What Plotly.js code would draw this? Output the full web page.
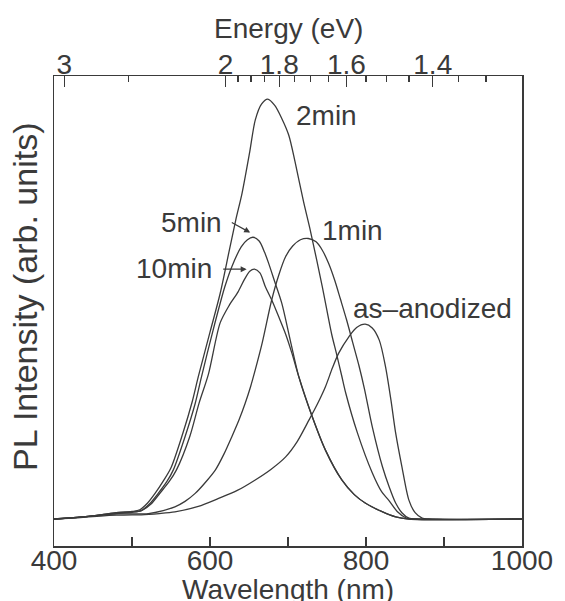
<!DOCTYPE html>
<html>
<head>
<meta charset="utf-8">
<script src="https://cdn.plot.ly/plotly-3.0.1.min.js"></script>
<style>html,body{margin:0;padding:0;background:#fff;}#chart{width:565px;height:601px;}</style>
</head>
<body>
<div id="chart"></div>
<script>
// ---- data ----
const wl_2min = [400,430,460,480,500,510,520,530,540,550,565,577,585,600,613,624,633,641,651,658,666,674,683,692,701,709,720,729,744,756,762,769,774,789,808,820,829,840,851,860,1000];
const pl_2min = [0,0.4,1.0,1.5,1.8,2.2,3.8,6.2,9.0,12.2,20.3,27.8,33.9,44.5,53.7,63.3,71.2,77.5,87.5,95.0,98.8,100,98.5,95.4,91.4,85.1,75.5,68.4,55.3,44.0,39.5,34.0,30.0,20.5,11.0,6.5,4.5,1.8,0.3,0,0];

const wl_5min = [400,430,460,480,500,512,522,534,545,553,568,581,589,604,619,628,640,648,655,663,670,675,683,692,703,714,731,748,769,785,799,820,838,855,1000];
const pl_5min = [0,0.4,1.0,1.5,1.7,2.0,3.5,6.2,9.0,11.7,19.6,27.5,33.8,45.0,55.3,60.1,64.8,66.5,67.1,66.2,63.5,61.0,56.5,51.4,42.5,33.8,24.4,16.4,9.3,5.8,3.8,1.8,0.5,0,0];

const wl_10min = [400,430,460,480,500,512,524,536,548,557,574,586,598,613,625,636,644,651,657,664,671,680,688,697,705,714,731,748,769,785,799,820,838,855,1000];
const pl_10min = [0,0.4,0.9,1.3,1.6,2.0,3.5,6.2,9.0,11.7,19.6,27.6,34.5,46.7,51.0,54.1,57.0,59.0,59.5,58.6,55.3,51.8,48.2,44.0,39.5,33.8,24.4,16.4,9.3,5.8,3.8,1.8,0.5,0,0];

const wl_1min = [400,430,460,480,500,521,540,555,568,581,594,607,618,628,637,645,652,658,667,679,688,697,706,716,726,736,744,752,760,767,775,783,791,798,808,821,830,838,846,855,865,1000];
const pl_1min = [0,0.4,0.9,1.2,1.2,1.3,2.0,2.9,4.2,6.1,8.7,11.7,15.5,19.6,23.5,27.5,31.5,35.5,42.0,52.1,58.0,62.5,65.0,66.5,66.8,66.0,64.0,60.9,56.8,52.5,47.5,42.0,36.5,31.0,22.0,12.5,7.5,3.8,1.5,0.2,0,0];

const wl_asAnodized = [400,430,460,480,500,512,535,555,585,611,635,658,678,697,712,727,738,748,757,765,778,788,799,808,817,825,832,838,846,855,863,872,880,1000];
const pl_asAnodized = [0,0.3,0.7,0.9,1.0,1.0,1.3,1.7,3.0,4.9,6.8,9.3,11.8,14.8,18.5,23.6,27.5,31.5,36.0,39.5,43.4,45.6,46.4,45.5,42.6,36.3,28.3,20.5,12.5,4.5,1.5,0.2,0,0];

const seriesNames = ['as-anodized','1min','2min','5min','10min'];

const wlTickVals = [400,500,600,700,800,900,1000];
const wlTickText = ['400','','600','','800','','1000'];

const energyMajor = [3,2,1.8,1.6,1.4];
const energyMajorText = ['3','2','1.8','1.6','1.4'];
const energyMinor = [2.5,1.95,1.9,1.85,1.75,1.7,1.65,1.55,1.5,1.45,1.35,1.3];
const hc = 1239.84; // eV*nm, energy -> wavelength

const xTitle = 'Wavelength (nm)';
const x2Title = 'Energy (eV)';
const yTitle = 'PL Intensity (arb. units)';

// ---- drawing ----
const ink = '#3a3a3a';
const font = 'Liberation Sans, Arial, Helvetica, sans-serif';
const lineStyle = {color: ink, width: 1.3, shape: 'spline', smoothing: 0.8};

const pairs = [
  [wl_asAnodized, pl_asAnodized],
  [wl_1min, pl_1min],
  [wl_2min, pl_2min],
  [wl_5min, pl_5min],
  [wl_10min, pl_10min]
];
const traces = pairs.map((p, i) => ({
  x: p[0], y: p[1], type: 'scatter', mode: 'lines', name: seriesNames[i],
  line: lineStyle, hoverinfo: 'skip'
}));
// invisible trace so the top (energy) axis is bound
traces.push({x: [wl_2min[0]], y: [pl_2min[0]], xaxis: 'x2', yaxis: 'y', mode: 'markers',
  marker: {opacity: 0}, hoverinfo: 'skip', showlegend: false});

const layout = {
  width: 565, height: 601,
  margin: {l: 54, r: 43, t: 76, b: 55, pad: 0},
  paper_bgcolor: '#ffffff', plot_bgcolor: '#ffffff',
  showlegend: false,
  font: {family: font, size: 28, color: ink},
  xaxis: {
    range: [400, 1000], showline: true, linecolor: ink, linewidth: 1.5,
    ticks: 'inside', ticklen: 9, tickwidth: 1.3, tickcolor: ink,
    tickmode: 'array', tickvals: wlTickVals, ticktext: wlTickText,
    showgrid: false, zeroline: false, automargin: false,
    tickfont: {size: 28}, ticklabelstandoff: -11
  },
  xaxis2: {
    overlaying: 'x', side: 'top', anchor: 'y',
    range: [400, 1000], showline: true, linecolor: ink, linewidth: 1.5,
    ticks: 'inside', ticklen: 11, tickwidth: 1.3, tickcolor: ink,
    tickmode: 'array', tickvals: energyMajor.map(e => hc / e), ticktext: energyMajorText,
    minor: {tickmode: 'array', tickvals: energyMinor.map(e => hc / e), ticks: 'inside', ticklen: 6, tickwidth: 1.2, tickcolor: ink, showgrid: false},
    showgrid: false, zeroline: false, automargin: false,
    tickfont: {size: 28}, ticklabelstandoff: -11
  },
  yaxis: {
    range: [-6.43, 105.5], showline: true, mirror: true, linecolor: ink, linewidth: 1.5,
    showticklabels: false, ticks: '', showgrid: false, zeroline: false, automargin: false
  },
  annotations: [
    // axis titles
    {xref: 'paper', yref: 'paper', x: 0.5, y: -0.093, text: xTitle, showarrow: false, xanchor: 'center', yanchor: 'middle', font: {size: 28}},
    {xref: 'paper', yref: 'paper', x: 0.5, y: 1.102, text: x2Title, showarrow: false, xanchor: 'center', yanchor: 'middle', font: {size: 28}},
    {xref: 'paper', yref: 'paper', x: -0.062, y: 0.53, text: yTitle, textangle: -90, showarrow: false, xanchor: 'center', yanchor: 'middle', font: {size: 34}},
    // curve labels
    {x: 749, y: 96.2, xref: 'x', yref: 'y', text: '2min', showarrow: false, xanchor: 'center', yanchor: 'middle'},
    {x: 783, y: 68.6, xref: 'x', yref: 'y', text: '1min', showarrow: false, xanchor: 'center', yanchor: 'middle'},
    {x: 885, y: 50.2, xref: 'x', yref: 'y', text: 'as\u2013anodized', showarrow: false, xanchor: 'center', yanchor: 'middle'},
    {x: 576, y: 70.7, xref: 'x', yref: 'y', text: '5min', showarrow: false, xanchor: 'center', yanchor: 'middle'},
    {x: 554, y: 59.6, xref: 'x', yref: 'y', text: '10min', showarrow: false, xanchor: 'center', yanchor: 'middle'},
    {x: 651.5, y: 68.2, ax: 626, ay: 70.8, xref: 'x', yref: 'y', axref: 'x', ayref: 'y', text: '', showarrow: true, arrowhead: 2, arrowsize: 1, arrowwidth: 1.2, arrowcolor: ink},
    {x: 647, y: 59.5, ax: 615, ay: 59.5, xref: 'x', yref: 'y', axref: 'x', ayref: 'y', text: '', showarrow: true, arrowhead: 2, arrowsize: 1, arrowwidth: 1.2, arrowcolor: ink}
  ]
};

Plotly.newPlot('chart', traces, layout, {staticPlot: true, displayModeBar: false});
</script>
</body>
</html>
